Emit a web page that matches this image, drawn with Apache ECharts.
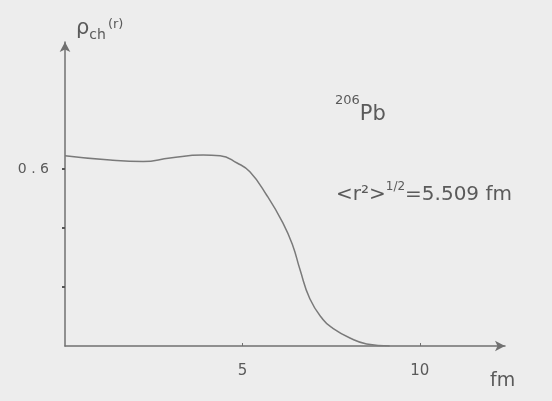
<!DOCTYPE html>
<html>
<head>
<meta charset="utf-8">
<script src="https://cdn.jsdelivr.net/npm/echarts@6/dist/echarts.min.js"></script>
<style>
  html, body { margin: 0; padding: 0; background: #ededed; }
  #chart { width: 552px; height: 401px; }
</style>
</head>
<body>
<div id="chart"></div>
<script>
// radius in fm and charge density
var radius = [0, 1.27, 2.2, 2.96, 3.89, 4.37, 4.85, 5.21, 5.69, 6.14, 6.42, 6.62, 6.9, 7.27, 7.55, 8.03, 8.5, 9.15];
var density = [0.645, 0.63, 0.625, 0.637, 0.647, 0.645, 0.62, 0.59, 0.51, 0.417, 0.34, 0.26, 0.16, 0.09, 0.06, 0.027, 0.007, 0];
var xTicks = [5, 10];
var yTicks = [0.2, 0.4, 0.6];
var yLabels = [0.6];

var ink = '#5a5a5a';
var font = '"DejaVu Sans", sans-serif';

var chart = echarts.init(document.getElementById('chart'));

var points = radius.map(function (r, i) { return [r, density[i]]; });

var option = {
    backgroundColor: '#ededed',
    animation: false,
    grid: { left: 65, right: 47, top: 42, bottom: 55 },
    xAxis: {
        type: 'value',
        min: 0,
        max: 12.4,
        splitLine: { show: false },
        axisLine: {
            lineStyle: { color: '#707070', width: 1.5 },
            symbol: ['none', 'arrow'],
            symbolSize: [8, 10]
        },
        axisTick: { customValues: xTicks, length: 3, inside: true, lineStyle: { color: '#707070' } },
        axisLabel: {
            customValues: xTicks,
            color: ink,
            fontFamily: font,
            fontSize: 15,
            margin: 18
        }
    },
    yAxis: {
        type: 'value',
        min: 0,
        max: 1.03,
        splitLine: { show: false },
        axisLine: {
            show: true,
            lineStyle: { color: '#707070', width: 1.5 },
            symbol: ['none', 'arrow'],
            symbolSize: [8, 10]
        },
        axisTick: { show: true, customValues: yTicks, length: 3, lineStyle: { color: '#555', width: 2 } },
        axisLabel: {
            customValues: yLabels,
            color: ink,
            fontFamily: font,
            fontSize: 14,
            margin: 16,
            formatter: function (v) { return v.toFixed(1).replace('.', ' . '); }
        }
    },
    graphic: [
        {
            type: 'text', left: 76, top: 18,
            style: {
                text: '{a|ρ}{b|ch}{c|(r)}',
                rich: {
                    a: { fontSize: 21, fontFamily: font, fill: ink },
                    b: { fontSize: 14, fontFamily: font, fill: ink, padding: [14, 0, 0, 0] },
                    c: { fontSize: 13, fontFamily: font, fill: ink, padding: [0, 0, 8, 2] }
                }
            }
        },
        {
            type: 'text', left: 335, top: 94,
            style: {
                text: '{s|206}{m|Pb}',
                rich: {
                    s: { fontSize: 13, fontFamily: font, fill: ink, padding: [0, 0, 14, 0] },
                    m: { fontSize: 21, fontFamily: font, fill: ink, padding: [14, 0, 0, 0] }
                }
            }
        },
        {
            type: 'text', left: 336, top: 181,
            style: {
                text: '{a|<r²>}{b|1/2}{a|=5.509 fm}',
                rich: {
                    a: { fontSize: 20, fontFamily: font, fill: ink, padding: [8, 0, 0, 0] },
                    b: { fontSize: 12, fontFamily: font, fill: ink, padding: [0, 0, 8, 0] }
                }
            }
        },
        {
            type: 'text', left: 490, top: 372,
            style: { text: 'fm', fontSize: 19, fontFamily: font, fill: ink }
        }
    ],
    series: [{
        type: 'line',
        data: points,
        smooth: 0.5,
        showSymbol: false,
        lineStyle: { color: '#7a7a7a', width: 1.5 }
    }]
};

chart.setOption(option);
</script>
</body>
</html>
